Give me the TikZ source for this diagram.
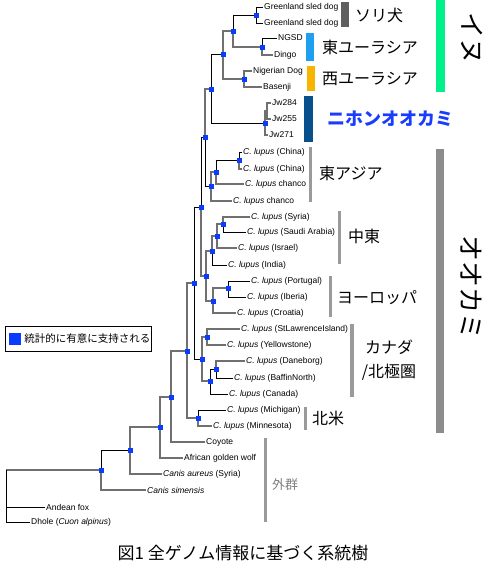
\documentclass[tikz,border=0pt]{standalone}
\usepackage{fontspec}
\setmainfont{Liberation Sans}
\newfontfamily\jpfont{Noto Sans CJK JP}
\usetikzlibrary{positioning,backgrounds}
\definecolor{TreeBlue}{HTML}{0A3CFF}
\definecolor{TreeGray}{HTML}{707070}
\definecolor{SledGray}{HTML}{5E5E5E}
\definecolor{EastBlue}{HTML}{1E9FF0}
\definecolor{WestOrange}{HTML}{F7B500}
\definecolor{JwNavy}{HTML}{08508C}
\definecolor{JwLabel}{HTML}{1A3CFF}
\definecolor{DogGreen}{HTML}{00F08C}
\definecolor{WolfGray}{HTML}{8C8C8C}
\definecolor{CladeGray}{HTML}{9A9A9A}
\definecolor{OutLabel}{HTML}{808080}
\tikzset{
  support/.style={fill=TreeBlue, inner sep=0pt, minimum size=5pt},
  branch/.style={draw=black, line width=.8pt},
  graybranch/.style={draw=TreeGray, line width=1.3pt},
  leaf/.style={anchor=west, inner sep=1pt, font=\fontsize{8.5}{10}\selectfont},
  cladebar/.style={fill=#1, inner sep=0pt, minimum width=8pt},
  thinbar/.style={fill=CladeGray, inner sep=0pt, minimum width=3.5pt},
  cladelabel/.style={anchor=west, inner sep=0pt, font=\jpfont\fontsize{16}{24}\selectfont},
  biglabel/.style={inner sep=0pt, rotate=-90, font=\jpfont\fontsize{26}{28}\selectfont}
}

\begin{document}
\begin{tikzpicture}[x=1pt,y=-1pt]
  \useasboundingbox (0,0) rectangle (487,568);

  % Leaves, top to bottom.
  \node[leaf] (gsd1)     at (263,7)   {Greenland sled dog};
  \node[leaf] (gsd2)     at (263,23)  {Greenland sled dog};
  \node[leaf] (ngsd)     at (277,38)  {NGSD};
  \node[leaf] (dingo)    at (273,55)  {Dingo};
  \node[leaf] (nig)      at (252,71)  {Nigerian Dog};
  \node[leaf] (bas)      at (262,87)  {Basenji};
  \node[leaf] (jw284)    at (271,103) {Jw284};
  \node[leaf] (jw255)    at (271,119) {Jw255};
  \node[leaf] (jw271)    at (268,135) {Jw271};
  \node[leaf] (china1)   at (242,152) {\textit{C. lupus} (China)};
  \node[leaf] (china2)   at (242,169) {\textit{C. lupus} (China)};
  \node[leaf] (chanco1)  at (244,184) {\textit{C. lupus} chanco};
  \node[leaf] (chanco2)  at (232,201) {\textit{C. lupus} chanco};
  \node[leaf] (syria)    at (250,217) {\textit{C. lupus} (Syria)};
  \node[leaf] (saudi)    at (246,232) {\textit{C. lupus} (Saudi Arabia)};
  \node[leaf] (israel)   at (237,248) {\textit{C. lupus} (Israel)};
  \node[leaf] (india)    at (227,265) {\textit{C. lupus} (India)};
  \node[leaf] (portugal) at (250,281) {\textit{C. lupus} (Portugal)};
  \node[leaf] (iberia)   at (246,297) {\textit{C. lupus} (Iberia)};
  \node[leaf] (croatia)  at (236,313) {\textit{C. lupus} (Croatia)};
  \node[leaf] (stl)      at (240,329) {\textit{C. lupus} (StLawrenceIsland)};
  \node[leaf] (yellow)   at (226,345) {\textit{C. lupus} (Yellowstone)};
  \node[leaf] (dane)     at (245,361) {\textit{C. lupus} (Daneborg)};
  \node[leaf] (baffin)   at (233,378) {\textit{C. lupus} (BaffinNorth)};
  \node[leaf] (canada)   at (228,394) {\textit{C. lupus} (Canada)};
  \node[leaf] (mich)     at (226,410) {\textit{C. lupus} (Michigan)};
  \node[leaf] (minn)     at (212,426) {\textit{C. lupus} (Minnesota)};
  \node[leaf] (coyote)   at (205,442) {Coyote};
  \node[leaf] (agw)      at (183,458) {African golden wolf};
  \node[leaf] (aureus)   at (162,474) {\textit{Canis aureus} (Syria)};
  \node[leaf] (simensis) at (146,490) {\textit{Canis simensis}};
  \node[leaf] (andean)   at (45,507)  {Andean fox};
  \node[leaf] (dhole)    at (30,522)  {Dhole (\textit{Cuon alpinus})};

  % Supported nodes (blue squares).
  \node[support] (nGsd)  at (256,15)  {};
  \node[support] (nEas)  at (262,47)  {};
  \node[support] (nWes)  at (244,79)  {};
  \node[support] (nSE)   at (233,31)  {};
  \node[support] (nDog)  at (223,54)  {};
  \node[support] (nJw)   at (265,123) {};
  \node[support] (nDJ)   at (211,89)  {};
  \node[support] (nChina) at (239,160) {};
  \node[support] (nEA1)  at (216,172) {};
  \node[support] (nEA)   at (211,186) {};
  \node[support] (nUp)   at (205,137) {};
  \node[support] (nME1)  at (223,224) {};
  \node[support] (nME2)  at (217,236) {};
  \node[support] (nME)   at (212,251) {};
  \node[support] (nEU1)  at (228,288) {};
  \node[support] (nEU)   at (213,301) {};
  \node[support] (nMEU)  at (206,276) {};
  \node[support] (nEur)  at (201,207) {};
  \node[support] (nCan1) at (207,337) {};
  \node[support] (nCan2) at (216,369) {};
  \node[support] (nCan3) at (210,381) {};
  \node[support] (nAm)   at (202,359) {};
  \node[support] (nOld)  at (194,283) {};
  \node[support] (nNA)   at (198,418) {};
  \node[support] (nWolf) at (187,351) {};
  \node[support] (nCoy)  at (171,397) {};
  \node[support] (nAgw)  at (160,427) {};
  \node[support] (nAur)  at (130,450) {};
  \node[support] (nSim)  at (101,470) {};
  \coordinate (nJwi) at (267,111);
  \coordinate (root) at (6,470);

  % Branches go behind the squares.
  \begin{scope}[on background layer]
    % dogs
    \draw[branch]     (nGsd.center) |- (gsd1.west);
    \draw[branch]     (nGsd.center) |- (gsd2.west);
    \draw[branch]     (nEas.center) |- (ngsd.west);
    \draw[graybranch] (nEas.center) |- (dingo.west);
    \draw[graybranch] (nWes.center) |- (nig.west);
    \draw[graybranch] (nWes.center) |- (bas.west);
    \draw[branch]     (nSE.center) |- (nGsd.center);
    \draw[graybranch] (nSE.center) |- (nEas.center);
    \draw[graybranch] (nDog.center) |- (nSE.center);
    \draw[graybranch] (nDog.center) |- (nWes.center);
    \draw[branch]     (nDJ.center) |- (nDog.center);
    \draw[branch]     (nDJ.center) |- (nJw.center);
    % Japanese wolf
    \draw[graybranch] (nJw.center) |- (nJwi);
    \draw[graybranch] (nJwi) |- (jw284.west);
    \draw[graybranch] (nJwi) |- (jw255.west);
    \draw[graybranch] (nJw.center) |- (jw271.west);
    \draw[graybranch] (nUp.center) |- (nDJ.center);
    \draw[branch]     (nUp.center) |- (nEA.center);
    % East Asia
    \draw[graybranch] (nEA.center) |- (nEA1.center);
    \draw[graybranch] (nEA.center) |- (chanco2.west);
    \draw[branch]     (nEA1.center) |- (nChina.center);
    \draw[graybranch] (nEA1.center) |- (chanco1.west);
    \draw[branch]     (nChina.center) |- (china1.west);
    \draw[graybranch] (nChina.center) |- (china2.west);
    \draw[branch]     (nEur.center) |- (nUp.center);
    \draw[graybranch] (nEur.center) |- (nMEU.center);
    % Middle East and Europe
    \draw[graybranch] (nMEU.center) |- (nME.center);
    \draw[graybranch] (nMEU.center) |- (nEU.center);
    \draw[graybranch] (nME.center) |- (nME2.center);
    \draw[branch]     (nME.center) |- (india.west);
    \draw[graybranch] (nME2.center) |- (nME1.center);
    \draw[graybranch] (nME2.center) |- (israel.west);
    \draw[graybranch] (nME1.center) |- (syria.west);
    \draw[branch]     (nME1.center) |- (saudi.west);
    \draw[graybranch] (nEU.center) |- (nEU1.center);
    \draw[graybranch] (nEU.center) |- (croatia.west);
    \draw[branch]     (nEU1.center) |- (portugal.west);
    \draw[branch]     (nEU1.center) |- (iberia.west);
    % Canada / Arctic and North America
    \draw[branch]     (nOld.center) |- (nEur.center);
    \draw[branch]     (nOld.center) |- (nAm.center);
    \draw[graybranch] (nAm.center) |- (nCan1.center);
    \draw[graybranch] (nAm.center) |- (nCan3.center);
    \draw[graybranch] (nCan1.center) |- (stl.west);
    \draw[graybranch] (nCan1.center) |- (yellow.west);
    \draw[branch]     (nCan3.center) |- (nCan2.center);
    \draw[branch]     (nCan3.center) |- (canada.west);
    \draw[graybranch] (nCan2.center) |- (dane.west);
    \draw[branch]     (nCan2.center) |- (baffin.west);
    \draw[graybranch] (nWolf.center) |- (nOld.center);
    \draw[graybranch] (nWolf.center) |- (nNA.center);
    \draw[branch]     (nNA.center) |- (mich.west);
    \draw[graybranch] (nNA.center) |- (minn.west);
    % outgroups
    \draw[graybranch] (nCoy.center) |- (nWolf.center);
    \draw[graybranch] (nCoy.center) |- (coyote.west);
    \draw[graybranch] (nAgw.center) |- (nCoy.center);
    \draw[graybranch] (nAgw.center) |- (agw.west);
    \draw[graybranch] (nAur.center) |- (nAgw.center);
    \draw[graybranch] (nAur.center) |- (aureus.west);
    \draw[branch]     (nSim.center) |- (nAur.center);
    \draw[graybranch] (nSim.center) |- (simensis.west);
    \draw[graybranch] (root) -- (nSim.center);
    \draw[branch]     (root) |- (andean.west);
    \draw[branch]     (root) |- (dhole.west);
  \end{scope}

  % Clade bars and their labels.
  \node[cladebar=SledGray, minimum height=25pt]   (barSori) at (345,14.5)  {};
  \node[cladebar=EastBlue, minimum height=28pt]   (barEas)  at (310,47)    {};
  \node[cladebar=WestOrange, minimum height=25pt] (barWes)  at (311,78.5)  {};
  \node[cladebar=JwNavy, minimum width=9pt, minimum height=46pt] (barJw) at (308.5,119) {};
  \node[cladebar=DogGreen, minimum width=9pt, minimum height=92pt] (barDog) at (440.5,46) {};
  \node[cladebar=WolfGray, minimum height=284pt]  (barWolf) at (440,291)   {};
  \node[thinbar, minimum height=55pt] (barEA)  at (310.5,174.5) {};
  \node[thinbar, minimum height=53pt] (barME)  at (339.5,237.5) {};
  \node[thinbar, minimum height=41pt] (barEU)  at (330.5,296.5) {};
  \node[thinbar, minimum height=73pt] (barCan) at (352,360.5)   {};
  \node[thinbar, minimum height=23pt] (barNA)  at (305.5,418.5) {};
  \node[thinbar, minimum height=84pt] (barOut) at (265.5,480)   {};

  \node[cladelabel] (labSori) at (355,15)  {ソリ犬};
  \node[cladelabel] (labEas)  at (322,47)  {東ユーラシア};
  \node[cladelabel] (labWes)  at (322,79)  {西ユーラシア};
  \node[cladelabel, text=JwLabel, font=\jpfont\bfseries\fontsize{18}{20}\selectfont] (labJw) at (327,119) {ニホンオオカミ};
  \node[biglabel] (labDog)  at (472,38)  {イヌ};
  \node[biglabel] (labWolf) at (471,287) {オオカミ};
  \node[cladelabel] (labEA)  at (319,173) {東アジア};
  \node[cladelabel] (labME)  at (348,236) {中東};
  \node[cladelabel] (labEU)  at (337,298) {ヨーロッパ};
  \node[cladelabel, anchor=center, align=center] (labCan) at (389,360) {カナダ\\/北極圏};
  \node[cladelabel] (labNA)  at (312,418) {北米};
  \node[cladelabel, text=OutLabel, font=\jpfont\fontsize{13}{15}\selectfont] (labOut) at (272,485) {外群};

  % Legend and caption.
  \node[draw=black, line width=.6pt, minimum width=146pt, minimum height=25pt, inner sep=0pt] (legend) at (78,338.5) {};
  \node[fill=TreeBlue, inner sep=0pt, minimum size=12pt] (legkey) at (15,338.5) {};
  \node[right=3pt of legkey, inner sep=0pt, font=\jpfont\fontsize{10.5}{12}\selectfont] (legtext) {統計的に有意に支持される};
  \node[font=\jpfont\fontsize{17}{19}\selectfont] (caption) at (243,553) {図1 全ゲノム情報に基づく系統樹};
\end{tikzpicture}
\end{document}
